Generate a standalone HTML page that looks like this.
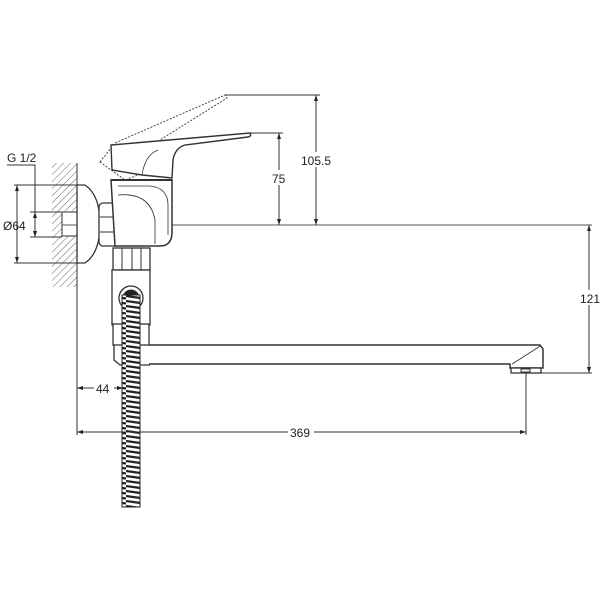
<!DOCTYPE html>
<html><head><style>html,body{margin:0;padding:0;background:#fff}svg{display:block}</style></head>
<body>
<svg width="600" height="600" viewBox="0 0 600 600" xmlns="http://www.w3.org/2000/svg" font-family="Liberation Sans, sans-serif">
<defs>
<pattern id="h" width="5" height="5" patternUnits="userSpaceOnUse" patternTransform="rotate(45)">
<line x1="0" y1="0" x2="0" y2="5" stroke="#666" stroke-width="1"/></pattern>
<pattern id="coil" width="18" height="5" patternUnits="userSpaceOnUse">
<rect width="18" height="5" fill="#fff"/><path d="M0 1 L18 3.5" stroke="#222" stroke-width="2.2"/></pattern>
</defs>
<g fill="none" stroke="#333" stroke-width="1">
<!-- wall -->
<rect x="52" y="163" width="25" height="124" fill="url(#h)" stroke="none"/>
<line x1="77" y1="163" x2="77" y2="435"/>
<!-- G 1/2 -->
<polyline points="7,165 35,165 35,237"/>
<line x1="30" y1="212" x2="62" y2="212"/><line x1="30" y1="237" x2="62" y2="237"/>
<!-- Ø64 -->
<line x1="14" y1="185" x2="80" y2="185"/><line x1="14" y1="263" x2="80" y2="263"/>
<line x1="17" y1="185" x2="17" y2="263"/>
<rect x="62" y="212" width="15" height="24" fill="#fff"/>
<!-- center line -->
<line x1="62" y1="225" x2="592" y2="225" stroke="#555"/>
<!-- flange -->
<path d="M77 185 L85 185 Q100 195 100 224 Q100 253 85 263 L77 263 Z" fill="#fff" stroke-width="1.3"/>
<!-- hex nut -->
<rect x="99" y="203" width="19" height="43" rx="4" fill="#fff" stroke-width="1.3"/>
<line x1="100" y1="217" x2="117" y2="217"/><line x1="100" y1="232" x2="117" y2="232"/>
<!-- body -->
<path d="M111 180 L172 180 L172 232 Q172 246 160 246 L115 246 Z" fill="#fff" stroke-width="1.5"/>
<path d="M118 186 L150 186 Q168 188 168 205 L168 235" stroke-width="0.8"/>
<path d="M118 195 Q150 192 155 220 L155 244" stroke-width="0.8"/>
<line x1="111" y1="180" x2="172" y2="180" stroke-width="2"/>
<!-- dotted lever -->
<path d="M100 162 L115 143 L225 95 L227 98 L160 140 L170 163 L125 180 Z" stroke-dasharray="2,1.5" stroke-width="0.9"/>
<path d="M142 175 Q145 150 165 140" stroke-dasharray="2,1.5" stroke-width="0.9"/>
<!-- lever -->
<path d="M111 145 L250 133 Q252 136 248 137 L185 145 Q175 148 173 160 L172 178 L142 175 L112 170 Z" fill="#fff" stroke-width="1.4"/>
<path d="M142 175 Q145 155 158 150" stroke-width="0.8"/>
<!-- connector -->
<rect x="113" y="248" width="37" height="22" fill="#fff" stroke-width="1.3"/>
<line x1="122" y1="248" x2="122" y2="270"/><line x1="132" y1="248" x2="132" y2="270"/><line x1="141" y1="248" x2="141" y2="270"/>
<rect x="112" y="270" width="38" height="55" fill="#fff" stroke-width="1.3"/>
<rect x="113" y="324" width="36" height="21" fill="#fff" stroke-width="1.3"/>
<path d="M114 345 L114 360 L120 365 L150 365" stroke-width="1.3"/>
<!-- spout -->
<path d="M149 345 L540 345 L543 349 L543 368 L510 368 L510 364 L149 364" fill="#fff" stroke-width="1.5"/>
<path d="M512 364 Q525 356 540 346" stroke-width="0.8"/>
<rect x="511" y="368" width="30" height="5" fill="#fff" stroke-width="1.3"/>
<rect x="521" y="369" width="9" height="3"/>
<!-- hose -->
<circle cx="131" cy="298" r="12" fill="#fff" stroke-width="1.3"/>
<circle cx="131" cy="298" r="8" fill="#222"/>
<rect x="122" y="295" width="18" height="212" fill="url(#coil)" stroke="#222" stroke-width="1"/>
<!-- dim 75 -->
<line x1="250" y1="133" x2="283" y2="133"/>
<line x1="279" y1="133" x2="279" y2="225"/>
<!-- dim 105.5 -->
<line x1="225" y1="95" x2="320" y2="95"/>
<line x1="316" y1="95" x2="316" y2="225"/>
<!-- dim 121 -->
<line x1="541" y1="373" x2="592" y2="373"/>
<line x1="589" y1="225" x2="589" y2="373"/>
<!-- dim 369 -->
<line x1="526" y1="373" x2="526" y2="435"/>
<line x1="77" y1="432" x2="526" y2="432"/>
<!-- dim 44 -->
<line x1="77" y1="388" x2="123" y2="388"/>
</g>
<g fill="#222">
<path d="M17 185 l-2 6 h4z M17 263 l-2 -6 h4z M35 212 l-2 6 h4z M35 237 l-2 -6 h4z"/>
<path d="M279 133 l-2 6 h4z M279 225 l-2 -6 h4z M316 95 l-2 6 h4z M316 225 l-2 -6 h4z"/>
<path d="M589 225 l-2 6 h4z M589 373 l-2 -6 h4z"/>
<path d="M77 432 l6 -2 v4z M526 432 l-6 -2 v4z M77 388 l6 -2 v4z M123 388 l-6 -2 v4z"/>
</g>
<g font-size="12" fill="#222">
<rect x="271" y="170" width="18" height="15" fill="#fff"/><text x="272" y="183">75</text>
<rect x="300" y="152" width="32" height="15" fill="#fff"/><text x="301" y="165">105.5</text>
<rect x="578" y="290" width="22" height="15" fill="#fff"/><text x="580" y="303">121</text>
<rect x="288" y="425" width="26" height="14" fill="#fff"/><text x="290" y="437">369</text>
<rect x="94" y="381" width="20" height="14" fill="#fff"/><text x="96" y="393">44</text>
<text x="7" y="162">G 1/2</text>
<text x="3" y="230">Ø64</text>
</g>
</svg>
</body></html>
